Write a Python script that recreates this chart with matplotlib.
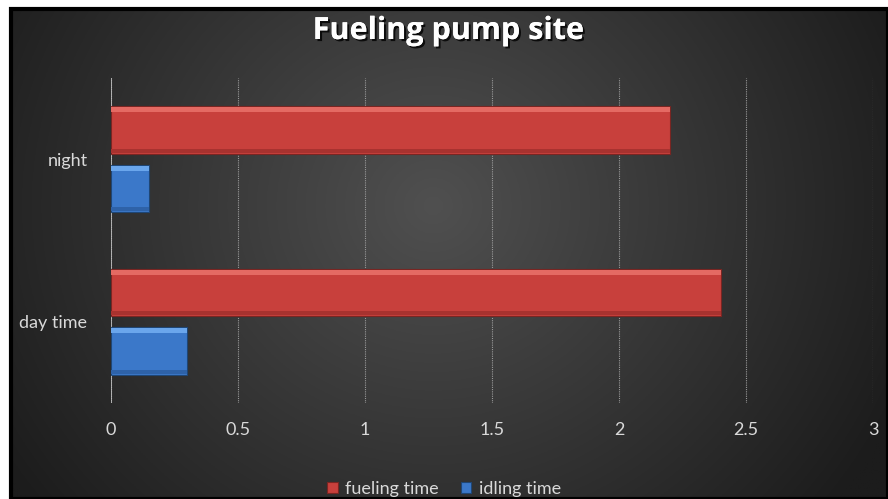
import numpy as np
import matplotlib
matplotlib.use("Agg")
import matplotlib.pyplot as plt
from matplotlib.patches import Rectangle
import matplotlib.patheffects as pe

categories = ["day time", "night"]
fueling_time = [2.4, 2.2]
idling_time = [0.3, 0.15]
series_names = ["fueling time", "idling time"]
x_ticks = [0, 0.5, 1, 1.5, 2, 2.5, 3]
x_tick_labels = ["0", "0.5", "1", "1.5", "2", "2.5", "3"]
title = "Fueling pump site"

W, H = 888, 499
fig = plt.figure(figsize=(W / 100, H / 100), dpi=100)
fig.patch.set_facecolor("white")

# background gradient panel
bx0, by0 = 11 / W, 0
bw, bh = (W - 11) / W, (H - 9) / H
bg = fig.add_axes([bx0, by0, bw, bh])
ny, nx = 300, 500
yy, xx = np.mgrid[0:ny, 0:nx]
cx, cy = nx * 0.48, ny * 0.4
d = np.sqrt(((xx - cx) / nx) ** 2 + ((yy - cy) / ny) ** 2 * 0.35)
d = np.clip(d / 0.58, 0, 1)
c_center = np.array([0x50, 0x50, 0x50]) / 255
c_edge = np.array([0x1c, 0x1c, 0x1c]) / 255
img = c_center[None, None, :] * (1 - d[..., None]) + c_edge[None, None, :] * d[..., None]
bg.imshow(img, aspect="auto", extent=[0, 1, 0, 1], origin="upper")
bg.set_xlim(0, 1)
bg.set_ylim(0, 1)
bg.axis("off")
bg.add_patch(Rectangle((0, 0), 1, 1, transform=bg.transAxes, fill=False,
                       edgecolor="black", linewidth=3, clip_on=False))

ax = fig.add_axes([111 / W, (H - 403) / H, (873 - 111) / W, (403 - 78) / H])
ax.set_facecolor("none")

y = np.arange(len(categories))
off = 0.18
h = 0.29
red = "#c8403c"
blue = "#3b78c9"
ax.barh(y + off, fueling_time, height=h, color=red, edgecolor="#7a2522",
        linewidth=0.8, label=series_names[0], zorder=3)
ax.barh(y - off, idling_time, height=h, color=blue, edgecolor="#1f4675",
        linewidth=0.8, label=series_names[1], zorder=3)
# subtle bevel: light top strip, dark bottom strip
ax.barh(y + off + h * 0.43, fueling_time, height=h * 0.1, color="#e46a63",
        linewidth=0, zorder=4)
ax.barh(y - off + h * 0.43, idling_time, height=h * 0.1, color="#6aa6ec",
        linewidth=0, zorder=4)
ax.barh(y + off - h * 0.44, fueling_time, height=h * 0.08, color="#a8322f",
        linewidth=0, zorder=4)
ax.barh(y - off - h * 0.44, idling_time, height=h * 0.08, color="#2e62a8",
        linewidth=0, zorder=4)

ax.set_xlim(0, 3)
ax.set_ylim(-0.5, 1.5)
ax.set_xticks(x_ticks)
ax.set_xticklabels(x_tick_labels)
ax.set_yticks(y)
ax.set_yticklabels(categories)
ax.grid(axis="x", color="#9a9a9a", linestyle=(0, (1, 1)), linewidth=0.8, zorder=1)
ax.axvline(0, color="#bfbfbf", linewidth=1.2, zorder=2)
for s in ax.spines.values():
    s.set_visible(False)
ax.tick_params(axis="both", length=0, colors="#d9d9d9", labelsize=13)
ax.tick_params(axis="x", pad=14)
ax.tick_params(axis="y", pad=17)
for t in ax.get_xticklabels() + ax.get_yticklabels():
    t.set_family("Lato")

fig.text(448 / W, 1 - 31 / H, title, ha="center", va="center",
         fontsize=22, fontweight="bold", color="white", family="Open Sans",
         path_effects=[pe.withSimplePatchShadow(offset=(1.5, -1.5), shadow_rgbFace="black", alpha=0.8),
                       pe.Normal()])

handles, labels = ax.get_legend_handles_labels()
leg = fig.legend(handles[:2], labels[:2], loc="center", bbox_to_anchor=(0.5, 1 - 489 / H),
                 ncol=2, frameon=False, handlelength=0.6, handleheight=0.6,
                 handletextpad=0.4, columnspacing=1.2,
                 prop={"family": "Lato", "size": 13})
for t in leg.get_texts():
    t.set_color("#d9d9d9")

fig.savefig("out.png", dpi=100, facecolor="white")
